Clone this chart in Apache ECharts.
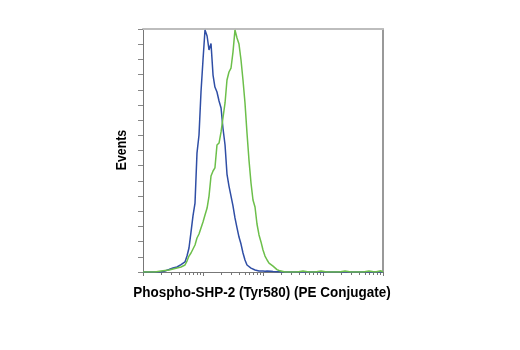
<!DOCTYPE html>
<html>
<head>
<meta charset="utf-8">
<script src="https://cdn.jsdelivr.net/npm/echarts@6/dist/echarts.min.js"></script>
<style>
html,body{margin:0;padding:0;background:#fff;}
#chart{width:520px;height:350px;}
</style>
</head>
<body>
<div id="chart"></div>
<script>
// Fluorescence intensity (log scale, 10^0 .. 10^4)
const intensity = [1, 1.26, 1.58, 2.0, 2.33, 2.71, 3.16, 3.69, 4.30, 5.01, 5.41, 5.84, 6.31, 6.81, 7.36, 7.94, 8.58, 9.26, 10, 10.8, 11.7, 12.6, 13.6, 14.7, 15.8, 17.1, 18.5, 20.0, 21.5, 23.3, 25.1, 27.1, 29.3, 31.6, 34.1, 36.9, 39.8, 43.0, 46.4, 50.1, 54.1, 58.4, 63.1, 68.1, 73.6, 79.4, 85.8, 92.6, 100, 108, 117, 126, 136, 147, 158, 171, 185, 200, 215, 233, 293, 369, 464, 584, 736, 926, 1170, 1470, 1850, 2330, 2930, 3690, 4640, 5840, 7360, 9260, 10000];
// Events (blue histogram)
const blueCounts = [0, 0, 0, 0, 0.7, 1.6, 2.6, 3.3, 4.9, 6.6, 10.5, 15.8, 26.3, 36.9, 45.4, 78.3, 90.2, 118.5, 139.6, 159.3, 155.4, 146.2, 150.5, 129.7, 121.8, 118.5, 112.6, 108, 94.8, 83.6, 64.5, 56.6, 50, 43.5, 35.6, 29, 23, 18.4, 12.5, 7.9, 4.6, 3.3, 2.6, 2, 1.3, 1, 0.7, 0.3, 0.7, 0.5, 0.7, 0.3, 0.5, 0.3, 0.5, 0.2, 0.3, 0, 0.3, 0, 0, 0, 0, 0, 0, 0, 0, 0, 0, 0, 0, 0, 0, 0, 0, 0, 0];
// Events (green histogram)
const greenCounts = [0, 0, 0, 0.7, 1.0, 1.3, 2.0, 2.6, 3.3, 4.6, 7.2, 10.5, 12.5, 13.8, 17.8, 22.4, 25, 29, 32.9, 37.5, 42.1, 50, 63.2, 66.5, 68.5, 83.6, 84.9, 92.2, 101.4, 111.3, 126.4, 131.7, 134.3, 144.8, 159.3, 154.1, 150.1, 139.6, 126.4, 111.3, 91.5, 73.7, 58.6, 47.4, 42.8, 31.6, 24.4, 19.8, 14.5, 10.5, 7.9, 5.9, 4.6, 3.9, 2.6, 1.6, 1.0, 0.7, 0.3, 0, 0, 0, 0.6, 0, 0, 0.6, 0, 0, 0, 0.6, 0, 0, 0, 0.6, 0, 0.8, 0];
// Tick positions
const majorTicks = [1, 10, 100, 1000, 10000];
const minorTicks = [2,3,4,5,6,7,8,9,20,30,40,50,60,70,80,90,200,300,400,500,600,700,800,900,2000,3000,4000,5000,6000,7000,8000,9000];
const xTitle = 'Phospho-SHP-2 (Tyr580) (PE Conjugate)';
const yTitle = 'Events';

const blueData = intensity.map((x, i) => [x, blueCounts[i]]);
const greenData = intensity.map((x, i) => [x, greenCounts[i]]);

const chart = echarts.init(document.getElementById('chart'), null, {renderer: 'canvas'});
const fam = 'Liberation Sans, Arial, sans-serif';
chart.setOption({
  animation: false,
  grid: {left: 143, right: 137, top: 29, bottom: 78},
  graphic: [
    {type: 'text', x: 262, y: 293, scaleX: 0.93, silent: true,
     style: {text: xTitle, x: 0, y: 0, align: 'center', verticalAlign: 'middle',
             font: 'bold 14.5px ' + fam, fill: '#000'}},
    {type: 'text', x: 122, y: 150, rotation: Math.PI / 2, scaleX: 0.88, silent: true,
     style: {text: yTitle, x: 0, y: 0, align: 'center', verticalAlign: 'middle',
             font: 'bold 14px ' + fam, fill: '#000'}}
  ],
  xAxis: [
    {type: 'log', min: 1, max: 10000, logBase: 10, position: 'bottom',
     axisLine: {show: true, lineStyle: {color: '#777', width: 1}},
     axisTick: {show: true, customValues: majorTicks, length: 4, lineStyle: {color: '#777'}},
     axisLabel: {show: false}, splitLine: {show: false}, minorTick: {show: false}},
    {type: 'log', min: 1, max: 10000, logBase: 10, position: 'bottom',
     axisLine: {show: false},
     axisTick: {show: true, customValues: minorTicks, length: 3, lineStyle: {color: '#777'}},
     axisLabel: {show: false}, splitLine: {show: false}},
    {type: 'log', min: 1, max: 10000, logBase: 10, position: 'top',
     axisLine: {show: true, lineStyle: {color: '#bdbdbd', width: 2}},
     axisTick: {show: false}, axisLabel: {show: false}, splitLine: {show: false}}
  ],
  yAxis: [
    {type: 'value', min: 0, max: 160, interval: 10, position: 'left',
     axisLine: {show: true, lineStyle: {color: '#777', width: 1}},
     axisTick: {show: true, length: 5, lineStyle: {color: '#888'}},
     axisLabel: {show: false}, splitLine: {show: false}},
    {type: 'value', min: 0, max: 160, position: 'right',
     axisLine: {show: true, lineStyle: {color: '#777', width: 1.5}},
     axisTick: {show: false}, axisLabel: {show: false}, splitLine: {show: false}}
  ],
  series: [
    {type: 'line', data: blueData, xAxisIndex: 0, yAxisIndex: 0, showSymbol: false,
     lineStyle: {color: '#2f4ea5', width: 1.5}, itemStyle: {color: '#2f4ea5'}},
    {type: 'line', data: greenData, xAxisIndex: 0, yAxisIndex: 0, showSymbol: false,
     lineStyle: {color: '#6cbf4a', width: 1.5}, itemStyle: {color: '#6cbf4a'}}
  ]
});
</script>
</body>
</html>
